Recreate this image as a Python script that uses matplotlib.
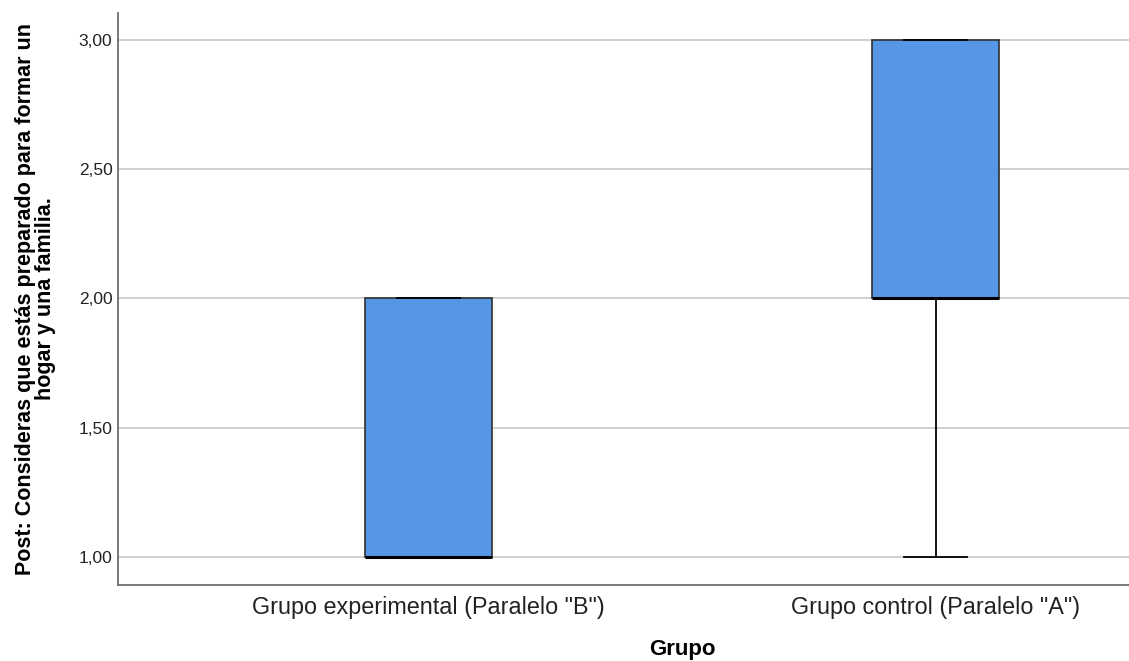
import matplotlib
matplotlib.use("Agg")
import matplotlib.pyplot as plt
from matplotlib.ticker import FuncFormatter

plt.rcParams['font.family'] = ['Liberation Sans', 'DejaVu Sans']

categories = ['Grupo experimental (Paralelo "B")', 'Grupo control (Paralelo "A")']
whislo = [1.0, 1.0]
q1 = [1.0, 2.0]
med = [1.0, 2.0]
q3 = [2.0, 3.0]
whishi = [2.0, 3.0]
yticks = [1.0, 1.5, 2.0, 2.5, 3.0]

stats = []
for i, c in enumerate(categories):
    stats.append(dict(label=c, whislo=whislo[i], q1=q1[i], med=med[i],
                      q3=q3[i], whishi=whishi[i], fliers=[]))

fig = plt.figure(figsize=(11.29, 6.61), dpi=100)
# the original plot area extends past the right edge of the image (cropped)
ax = fig.add_axes([118/1129, 76/661, (1246-118)/1129, (585-13)/661])

ax.set_axisbelow(True)
for y in yticks:
    ax.axhline(y, color='#c8c8c8', lw=1.2, zorder=0)

ax.bxp(stats, positions=[0, 1], widths=0.25, patch_artist=True, showfliers=False,
       boxprops=dict(facecolor='#5596e6', edgecolor='#303030', linewidth=1.2),
       medianprops=dict(color='black', linewidth=2.2),
       whiskerprops=dict(color='black', linewidth=1.3),
       capprops=dict(color='black', linewidth=1.3),
       capwidths=0.125)

ax.set_xlim(-0.612, 1.612)
ax.set_ylim(0.892, 3.104)
ax.set_yticks(yticks)
ax.yaxis.set_major_formatter(FuncFormatter(lambda v, p: f"{v:.2f}".replace('.', ',')))
ax.tick_params(axis='y', length=0, pad=4, labelsize=12.5, labelcolor='#222222')
ax.tick_params(axis='x', length=0, pad=8, labelsize=16.8, labelcolor='#222222')
ax.set_xticks([0, 1])
ax.set_xticklabels(categories)

for s in ['top', 'right']:
    ax.spines[s].set_visible(False)
for s in ['left', 'bottom']:
    ax.spines[s].set_color('#6e6e6e')
    ax.spines[s].set_linewidth(1.3)

ax.set_xlabel('Grupo', fontsize=16, fontweight='bold', labelpad=14)
ax.set_ylabel('Post: Consideras que estás preparado para formar un\nhogar y una familia.',
              fontsize=15.5, fontweight='bold', labelpad=16, linespacing=0.95)

fig.savefig('out.png', dpi=100)
